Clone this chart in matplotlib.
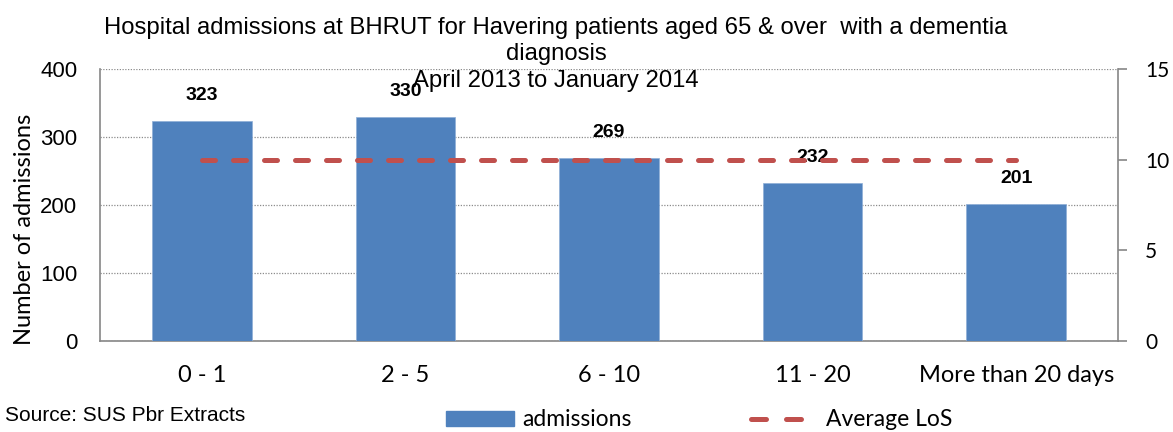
import matplotlib
matplotlib.use("Agg")
import matplotlib.pyplot as plt
from matplotlib.patches import Patch
from matplotlib.lines import Line2D

categories = ['0 - 1', '2 - 5', '6 - 10', '11 - 20', 'More than 20 days']
admissions = [323, 330, 269, 232, 201]
average_los = [10, 10, 10, 10, 10]

bar_color = '#4F81BD'
line_color = '#C0504D'
axis_grey = '#868686'

fig = plt.figure(figsize=(11.73, 4.32), dpi=100)
ax = fig.add_axes([0.0853, 0.2106, 0.8678, 0.6297])
x = list(range(len(categories)))

ax.bar(x, admissions, width=0.49, color=bar_color, edgecolor='#8EAEd6', linewidth=0.5, zorder=3)
ax.set_xlim(-0.5, len(categories) - 0.5)
ax.set_ylim(0, 400)
ax.set_yticks([0, 100, 200, 300, 400])
ax.set_xticks(x)
ax.set_xticklabels(categories, family='Lato', fontsize=17)
ax.tick_params(axis='y', labelsize=16, length=0, pad=16.5)
ax.tick_params(axis='x', length=0, pad=17)
for lab in ax.get_yticklabels():
    lab.set_family('Liberation Sans')
ax.grid(axis='y', linestyle=(0, (1, 1.2)), color='#8C8C8C', linewidth=0.9, zorder=0)
ax.spines['top'].set_visible(False)
ax.spines['right'].set_visible(False)
ax.spines['left'].set_color(axis_grey)
ax.spines['bottom'].set_color(axis_grey)
ax.spines['left'].set_linewidth(1.2)
ax.spines['bottom'].set_linewidth(1.2)

fig.text(25 / 1173, 0.47, 'Number of admissions', rotation=90, ha='center', va='center',
         family='Lato', fontsize=17)

for xi, v in zip(x, admissions):
    ax.annotate(str(v), (xi, v), xytext=(0, 18.4), textcoords='offset points',
                ha='center', va='center', fontsize=14, fontweight='bold',
                family='Liberation Sans', zorder=6)

ax2 = ax.twinx()
ax2.plot(x, average_los, color=line_color, linewidth=3.6, dashes=(2.6, 3.6),
         dash_capstyle='round', zorder=5)
ax2.set_ylim(0, 15)
ax2.set_yticks([0, 5, 10, 15])
ax2.tick_params(axis='y', labelsize=15, length=6.5, width=1.2, direction='out',
                color=axis_grey, pad=13)
for lab in ax2.get_yticklabels():
    lab.set_family('Lato')
ax2.spines['top'].set_visible(False)
ax2.spines['left'].set_visible(False)
ax2.spines['bottom'].set_visible(False)
ax2.spines['right'].set_color(axis_grey)
ax2.spines['right'].set_linewidth(1.2)

fig.text(556 / 1173, 1 - 17 / 432,
         'Hospital admissions at BHRUT for Havering patients aged 65 & over  with a dementia\ndiagnosis\nApril 2013 to January 2014',
         ha='center', va='top', fontsize=17.2, family='Liberation Sans', linespacing=1.25,
         zorder=10)

fig.text(5 / 1173, 1 - 421 / 432, 'Source: SUS Pbr Extracts', ha='left', va='baseline',
         fontsize=15, family='Liberation Sans')

handles = [Patch(facecolor=bar_color, edgecolor=bar_color),
           Line2D([0], [0], color=line_color, linewidth=3.6, dashes=(3.0, 4.0), dash_capstyle='round')]
fig.legend(handles, ['admissions', 'Average LoS'], loc='center left',
           bbox_to_anchor=(435 / 1173, 1 - 420 / 432),
           ncol=2, frameon=False, prop={'family': 'Lato', 'size': 16.5}, borderpad=0,
           handlelength=2.95, handleheight=0.65, columnspacing=5.2, handletextpad=0.35)

fig.savefig('out.png', dpi=100)
